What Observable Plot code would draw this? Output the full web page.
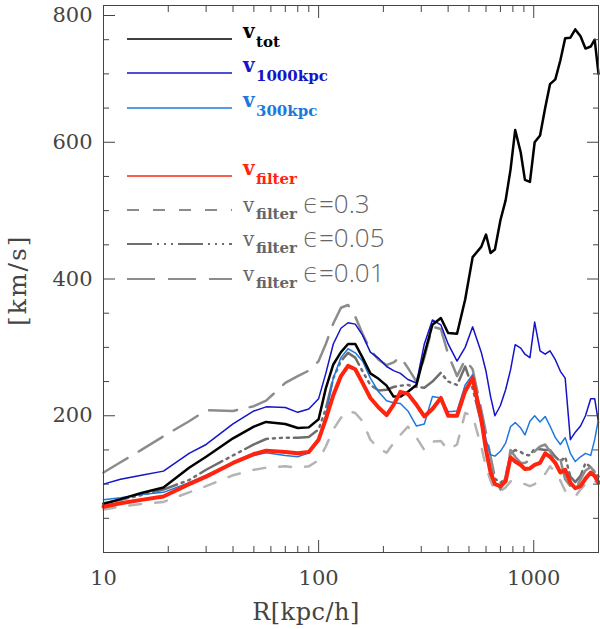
<!DOCTYPE html>
<html>
<head>
<meta charset="utf-8">
<script src="https://cdn.jsdelivr.net/npm/d3@7"></script>
<script src="https://cdn.jsdelivr.net/npm/@observablehq/plot@0.6"></script>
<style>
  body { margin: 0; background: #fff; }
  #chart { position: relative; width: 600px; height: 629px; }
  #ylab {
    position: absolute; left: 4px; top: 232px; height: 96px;
    writing-mode: vertical-rl; transform: rotate(180deg);
    font: 25px "DejaVu Serif"; letter-spacing: 2px; color: #444;
    text-align: center; line-height: 28px;
  }
</style>
</head>
<body>
<div id="chart"><div id="ylab">[km/s]</div></div>
<script>
// radio en kpc/h
const R = [10,12,15,19,25,30,40,50,57,70, 80,90,100,108,117,127,137,148,160,174,
  190,207,223,240,260,285,310,338,370,400, 440,480,520,570,600,630,660,700,740,780,
  820,870,910,960,1010,1070,1130,1190,1260,1330, 1400,1480,1560,1650,1740,1840,1920,2000]

// velocidades en km/s
const vTot = [71,78,87,95,124,140,167,184,191,188, 182,183,195,240,275,293,305,305,285,262,
  254,244,228,228,235,245,290,333,343,321, 320,370,432,447,465,438,443,486,515,560,
  618,585,545,542,600,610,650,685,692,720, 752,753,765,755,737,740,750,700]
const v1000 = [100,107,113,119,145,158,188,207,213,212, 205,210,225,262,305,328,336,334,318,293,
  284,272,266,262,253,248,305,340,333,305, 280,300,330,293,265,228,200,215,238,267,
  304,299,290,285,337,295,290,295,282,265, 255,165,176,185,200,225,225,190]
const v300 = [77,80,85,88,102,113,131,142,146,142, 140,146,165,200,255,285,298,292,280,255,
  235,222,219,218,207,185,188,228,226,206, 207,245,260,205,165,143,141,148,160,184,
  190,182,172,192,200,191,199,185,168,158, 168,145,133,140,145,142,165,195]
const vFilter = [67,72,77,82,100,111,131,144,149,147, 145,147,165,195,230,258,273,268,248,226,
  212,201,216,235,232,216,199,210,226,200, 200,236,255,195,150,117,100,97,104,139,
  133,128,122,123,128,131,145,140,131,117, 121,102,94,97,108,117,112,102]
const vEps03 = [63,67,71,74,88,97,113,121,124,126, 124,126,135,155,180,197,207,204,192,165,
  152,146,160,172,184,168,150,162,163,150, 158,204,200,155,125,105,90,90,95,104,
  105,102,100,97,100,110,115,126,118,105, 90,85,82,92,100,107,104,102]
const vEps005 = [72,77,84,92,106,121,142,158,166,168, 168,169,180,210,255,280,292,285,265,245,
  237,238,242,244,245,242,241,250,263,250, 245,272,240,190,150,121,108,102,108,145,
  150,147,143,142,152,151,150,150,140,133, 140,111,103,112,131,125,118,111]
const vEps001 = [117,132,150,170,192,208,207,214,222,248, 258,266,280,305,335,358,362,345,320,296,
  282,274,278,286,270,250,285,330,327,290, 258,282,268,209,175,140,110,92,110,150,
  140,131,131,135,148,155,158,148,131,136, 107,97,92,107,120,125,117,107]

const xMajor = [10, 100, 1000]
const xMinor = [20,30,40,50,60,70,80,90,200,300,400,500,600,700,800,900]
const yMajor = [200, 400, 600]
const yMinor = [50,100,150,250,300,350,450,500,550,650,700,750]

const rows = R.map((r, i) => ({
  R: r, tot: vTot[i], k1000: v1000[i], k300: v300[i], filter: vFilter[i],
  e03: vEps03[i], e005: vEps005[i], e001: vEps001[i]
}))

const gray03 = "#b4b4b4", gray005 = "#6e6e6e", gray001 = "#8c8c8c"
const blue = "#1414c8", lightBlue = "#1e78dc", red = "#ff2410"
const serif = "DejaVu Serif"
const axisCol = "#444"

const none = () => ""
const fmt = d => String(d)

let chart = Plot.plot({
  width: 600,
  height: 629,
  marginLeft: 103,
  marginRight: 2,
  marginTop: 5,
  marginBottom: 77,
  style: {fontFamily: serif, fontSize: "21px", color: axisCol, background: "#fff"},
  x: {type: "log", domain: [10, 2000], axis: null},
  y: {domain: [0, 800], axis: null},
  marks: [
    Plot.line(rows, {x: "R", y: "e03", stroke: gray03, strokeWidth: 2.5, strokeDasharray: "12,14"}),
    Plot.line(rows, {x: "R", y: "e005", stroke: gray005, strokeWidth: 2.5, strokeDasharray: "25,5,2,5,2,5,2,5"}),
    Plot.line(rows, {x: "R", y: "e001", stroke: gray001, strokeWidth: 2.5, strokeDasharray: "28,13"}),
    Plot.line(rows, {x: "R", y: "k1000", stroke: blue, strokeWidth: 1.5}),
    Plot.line(rows, {x: "R", y: "k300", stroke: lightBlue, strokeWidth: 1.5}),
    Plot.line(rows, {x: "R", y: "tot", stroke: "#000", strokeWidth: 2.5}),
    Plot.line(rows, {x: "R", y: "filter", stroke: red, strokeWidth: 4}),
    Plot.frame({stroke: axisCol}),
    // ejes con ticks hacia adentro
    Plot.axisX(xMajor, {anchor: "bottom", tickSize: -12, tickPadding: 30, label: null, tickFormat: fmt, fontSize: 21}),
    Plot.axisX(xMinor, {anchor: "bottom", tickSize: -6, tickFormat: none, label: null}),
    Plot.axisX(xMajor, {anchor: "top", tickSize: -12, tickFormat: none, label: null}),
    Plot.axisX(xMinor, {anchor: "top", tickSize: -6, tickFormat: none, label: null}),
    Plot.axisY(yMajor, {anchor: "left", tickSize: -12, tickPadding: 23, label: null, tickFormat: fmt, fontSize: 21}),
    Plot.axisY([800], {anchor: "left", tickSize: -12, tickPadding: 23, label: null, tickFormat: fmt, fontSize: 21, dy: 10}),
    Plot.axisY(yMinor, {anchor: "left", tickSize: -6, tickFormat: none, label: null}),
    Plot.axisY(yMajor, {anchor: "right", tickSize: -12, tickFormat: none, label: null}),
    Plot.axisY(yMinor, {anchor: "right", tickSize: -6, tickFormat: none, label: null}),
  ]
})

d3.select('#chart').append(() => chart)

const svg = d3.select(chart)
svg.selectAll("text").style("font-family", serif)

// titulo del eje x
svg.append("text").attr("x", 306).attr("y", 620)
  .attr("text-anchor", "middle").attr("fill", axisCol)
  .style("font-family", serif).attr("font-size", 24).attr("letter-spacing", 0.5)
  .text("R[kpc/h]")

// leyenda dentro del panel
const leg = [
  {y: 39, color: "#000", dash: null, sub: "tot", eps: null},
  {y: 73, color: blue, dash: null, sub: "1000kpc", eps: null},
  {y: 108, color: lightBlue, dash: null, sub: "300kpc", eps: null},
  {y: 176, color: red, dash: null, sub: "filter", eps: null},
  {y: 210, color: gray001, dash: "12,14", sub: "filter", eps: "=0.3"},
  {y: 244, color: gray005, dash: "25,5,2,5,2,5,2,5", sub: "filter", eps: "=0.05"},
  {y: 279, color: gray001, dash: "28,13", sub: "filter", eps: "=0.01"},
]
const g = svg.append("g")
  .style("font-family", serif)
  .attr("text-anchor", "start")
leg.forEach(d => {
  g.append("line").attr("x1", 127).attr("x2", 232).attr("y1", d.y).attr("y2", d.y)
    .attr("stroke", d.color).attr("stroke-width", d.dash ? 2 : 1.5)
    .attr("stroke-dasharray", d.dash)
  const isGray = d.eps != null
  const txtColor = isGray ? "#666" : d.color
  g.append("text").attr("x", 243).attr("y", isGray ? d.y + 2 : d.y - 1)
    .attr("fill", txtColor).attr("font-size", 20).attr("font-weight", isGray ? "normal" : "bold").text("v")
  g.append("text").attr("x", 256).attr("y", isGray ? d.y + 9 : d.y + 8)
    .attr("fill", txtColor).attr("font-size", 15).attr("font-weight", "bold").text(d.sub)
  if (isGray) {
    g.append("text").attr("x", 303).attr("y", d.y + 3)
      .attr("fill", txtColor).style("font-family", "'Open Sans', 'DejaVu Sans', sans-serif")
      .attr("font-weight", 300).attr("font-size", 26).text("\u03f5" + d.eps)
  }
})
</script>
</body>
</html>
